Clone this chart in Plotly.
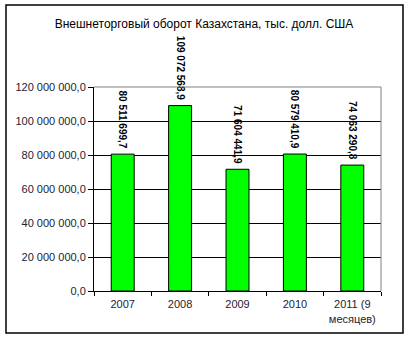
import plotly.graph_objects as go

categories = ["2007", "2008", "2009", "2010", "2011 (9<br>месяцев)"]
values = [80511699.7, 109072568.9, 71604441.9, 80579410.9, 74063290.8]
value_labels = ["80 511 699,7", "109 072 568,9", "71 604 441,9", "80 579 410,9", "74 063 290,8"]
y_ticks = [0, 20e6, 40e6, 60e6, 80e6, 100e6, 120e6]
y_tick_labels = ["0,0", "20 000 000,0", "40 000 000,0", "60 000 000,0",
                 "80 000 000,0", "100 000 000,0", "120 000 000,0"]
title = "Внешнеторговый оборот Казахстана, тыс. долл. США"

FONT = "Liberation Sans, Arial, sans-serif"
W, H = 408, 338
L, R, T, B = 94, 27, 87, 47
pw, ph = W - L - R, H - T - B

def px(x):
    return (x - L) / pw

def py(y):
    return (H - B - y) / ph

fig = go.Figure(go.Bar(
    x=categories, y=values,
    marker=dict(color="#00FF00", line=dict(color="#000000", width=1)),
    width=0.4,
    text=[t + "\u00a0" for t in value_labels], textposition="outside", textangle=90,
    constraintext="none",
    textfont=dict(family=FONT, size=10, color="#000000", weight="bold"),
    cliponaxis=False,
))

fig.update_layout(
    width=W, height=H,
    margin=dict(l=L, r=R, t=T, b=B),
    paper_bgcolor="white", plot_bgcolor="white",
    showlegend=False,
    title=dict(text=title, x=0.5, xanchor="center", y=1 - 24 / H, yanchor="middle",
               font=dict(family=FONT, size=12, color="#000000")),
    xaxis=dict(showline=True, linecolor="#000000", linewidth=1,
               ticks="outside", ticklen=4, tickcolor="#000000", tickson="boundaries",
               ticklabelstandoff=3,
               tickfont=dict(family=FONT, size=11, color="#222233")),
    yaxis=dict(range=[0, 120e6], tickvals=y_ticks, ticktext=y_tick_labels,
               showline=True, linecolor="#000000", linewidth=1,
               ticks="outside", ticklen=5, tickcolor="#000000",
               showgrid=True, gridcolor="#000000", gridwidth=1, zeroline=False,
               tickfont=dict(family=FONT, size=11, color="#222233")),
    shapes=[
        dict(type="rect", xref="paper", yref="paper",
             x0=px(6), x1=px(403), y0=py(333), y1=py(5),
             line=dict(color="#000000", width=1.5)),
        dict(type="line", xref="paper", yref="paper", x0=0, x1=1, y0=1, y1=1,
             line=dict(color="#808080", width=1)),
        dict(type="line", xref="paper", yref="paper", x0=1, x1=1, y0=0, y1=1,
             line=dict(color="#808080", width=1)),
    ],
)

fig.write_html("out.html")
